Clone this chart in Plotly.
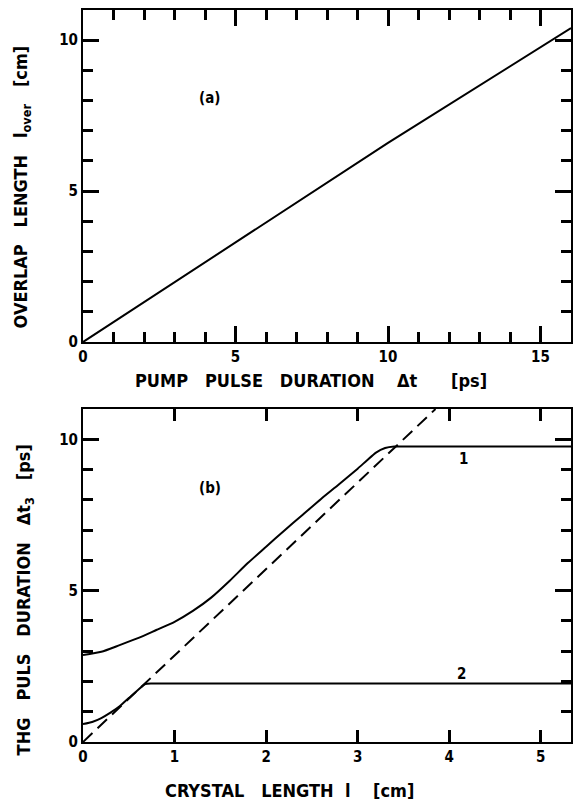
import plotly.graph_objects as go

# ---- data (a) ----
a_x = [0, 5, 10, 16]
a_y = [0, 3.3, 6.6, 10.4]

# ---- data (b) ----
c1_x = [0, 0.2, 0.4, 0.6, 0.8, 1.0, 1.2, 1.4, 1.6, 1.8, 2.0, 2.2, 2.4, 2.6, 2.8, 3.0, 3.1, 3.2, 3.3, 3.4, 3.5, 5.33]
c1_y = [2.87, 2.98, 3.20, 3.43, 3.70, 3.97, 4.33, 4.77, 5.32, 5.91, 6.45, 6.99, 7.51, 8.03, 8.52, 9.03, 9.30, 9.56, 9.71, 9.76, 9.76, 9.76]
c2_x = [0, 0.1, 0.2, 0.3, 0.4, 0.5, 0.6, 0.68, 0.75, 5.33]
c2_y = [0.59, 0.66, 0.79, 0.97, 1.18, 1.45, 1.72, 1.91, 1.93, 1.93]
d_x = [0, 3.85]
d_y = [0, 11.0]

top_xticks = [0, 5, 10, 15]
top_yticks = [0, 5, 10]
bot_xticks = [0, 1, 2, 3, 4, 5]
bot_yticks = [0, 5, 10]

FONT = "DejaVu Sans Condensed"
SP3 = "\u00a0" * 3

fig = go.Figure()
lw = 2
fig.add_trace(go.Scatter(x=a_x, y=a_y, mode="lines", line=dict(color="black", width=lw), xaxis="x", yaxis="y"))
fig.add_trace(go.Scatter(x=c1_x, y=c1_y, mode="lines", line=dict(color="black", width=lw, shape="spline", smoothing=0.6), xaxis="x2", yaxis="y2"))
fig.add_trace(go.Scatter(x=c2_x, y=c2_y, mode="lines", line=dict(color="black", width=lw, shape="spline", smoothing=0.5), xaxis="x2", yaxis="y2"))
fig.add_trace(go.Scatter(x=d_x, y=d_y, mode="lines", line=dict(color="black", width=lw, dash="13px,7px"), xaxis="x2", yaxis="y2"))

tickfont = dict(family=FONT, size=15, color="black", weight="bold")
TW = 3


def ax(rng, vals, ticklen, anchor, domain, minor):
    d = dict(range=rng, tickvals=vals, ticks="inside", ticklen=ticklen, tickwidth=TW,
             tickcolor="black", showline=True, linewidth=2, linecolor="black", mirror="allticks",
             showgrid=False, zeroline=False, anchor=anchor, domain=domain, tickfont=tickfont)
    if minor:
        d["minor"] = dict(dtick=1, tick0=0, ticks="inside", ticklen=10, tickwidth=TW,
                          tickcolor="black", showgrid=False)
    return d


fig.update_layout(
    xaxis=ax([0, 16], top_xticks, 16, "y", [0, 1], True),
    yaxis=ax([0, 11], top_yticks, 16, "x", [0.5464, 1], True),
    xaxis2=ax([0, 5.33], bot_xticks, 12, "y2", [0, 1], False),
    yaxis2=ax([0, 11], bot_yticks, 16, "x2", [0, 0.4549], True),
)

tf = dict(family=FONT, size=18, color="black", weight="bold")
lf = dict(family=FONT, size=15, color="black", weight="bold")
ann = [
    dict(text="(a)", x=4.14, y=8.1, xref="x", yref="y", showarrow=False, font=lf),
    dict(text="(b)", x=1.385, y=8.4, xref="x2", yref="y2", showarrow=False, font=lf),
    dict(text="1", x=4.16, y=9.34, xref="x2", yref="y2", showarrow=False, font=lf),
    dict(text="2", x=4.13, y=2.24, xref="x2", yref="y2", showarrow=False, font=lf),
    dict(text="PUMP" + SP3 + "PULSE" + SP3 + "DURATION" + "\u00a0" * 4 + "Δt" + "\u00a0" * 6 + "[ps]",
         x=0.467, y=0.4945, xref="paper", yref="paper", showarrow=False, font=tf,
         xanchor="center", yanchor="middle"),
    dict(text="CRYSTAL" + SP3 + "LENGTH" + "\u00a0" * 2 + "l" + "\u00a0" * 4 + "[cm]",
         x=0.4224, y=-0.0656, xref="paper", yref="paper", showarrow=False, font=tf,
         xanchor="center", yanchor="middle"),
    dict(text="OVERLAP" + SP3 + "LENGTH" + SP3 + "l<sub>over</sub>" + SP3 + "[cm]",
         x=-0.1245, y=0.758, xref="paper", yref="paper", showarrow=False, font=tf,
         textangle=-90, xanchor="center", yanchor="middle"),
    dict(text="THG" + SP3 + "PULS" + SP3 + "DURATION" + SP3 + "Δt<sub>3</sub>" + SP3 + "[ps]",
         x=-0.118, y=0.194, xref="paper", yref="paper", showarrow=False, font=tf,
         textangle=-90, xanchor="center", yanchor="middle"),
]
fig.update_layout(annotations=ann, width=579, height=804, showlegend=False,
                  margin=dict(l=83, r=6, t=10, b=62),
                  paper_bgcolor="white", plot_bgcolor="white")

fig.write_html("out.html")
